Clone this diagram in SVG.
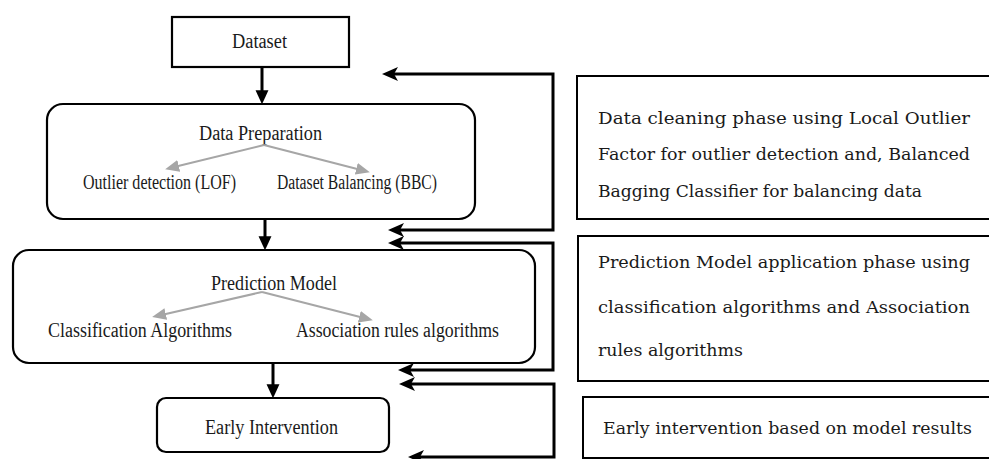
<svg xmlns="http://www.w3.org/2000/svg" width="989" height="459" viewBox="0 0 989 459">
<style>
.box{fill:#fff;stroke:#000;stroke-width:2.2}
.rbox{fill:#fff;stroke:#000;stroke-width:2}
.lt{font-family:"Liberation Serif","Times New Roman",serif;font-size:20px;fill:#1a1a1a}
.rt{font-family:"DejaVu Serif","Liberation Serif",serif;font-size:17px;fill:#1a1a1a}
.main{fill:none;stroke:#000;stroke-width:3}
.grey{fill:none;stroke:#a6a6a6;stroke-width:2}
.br{fill:none;stroke:#000;stroke-width:3}
</style>
<defs>
<marker id="mhead" markerUnits="userSpaceOnUse" markerWidth="14" markerHeight="14" viewBox="0 0 13 12" refX="9" refY="6" orient="auto">
<path d="M0,0 L13,6 L0,12 Z" fill="#000"/>
</marker>
<marker id="ghead" markerUnits="userSpaceOnUse" markerWidth="14" markerHeight="12" viewBox="0 0 14 12" refX="9" refY="6" orient="auto">
<path d="M0,0 L14,6 L0,12 Z" fill="#a6a6a6"/>
</marker>
<marker id="bhead" markerUnits="userSpaceOnUse" markerWidth="16" markerHeight="14" viewBox="0 0 16 14" refX="11" refY="7" orient="auto-start-reverse">
<path d="M0,0 L16,7 L0,14 L4,7 Z" fill="#000"/>
</marker>
</defs>

<g id="dataset">
<rect class="box" x="172" y="17" width="177" height="50"/>
<text class="lt" x="232" y="48" textLength="55" lengthAdjust="spacingAndGlyphs">Dataset</text>
</g>

<g id="data-preparation">
<rect class="box" x="47" y="104" width="428" height="115" rx="16"/>
<text class="lt" x="199" y="140" textLength="123" lengthAdjust="spacingAndGlyphs">Data Preparation</text>
<text class="lt" x="83" y="189" textLength="153" lengthAdjust="spacingAndGlyphs">Outlier detection (LOF)</text>
<text class="lt" x="277" y="189" textLength="160" lengthAdjust="spacingAndGlyphs">Dataset Balancing (BBC)</text>
</g>

<g id="prediction-model">
<rect class="box" x="13" y="250" width="522" height="113" rx="16"/>
<text class="lt" x="211" y="290" textLength="126" lengthAdjust="spacingAndGlyphs">Prediction Model</text>
<text class="lt" x="48" y="337" textLength="184" lengthAdjust="spacingAndGlyphs">Classification Algorithms</text>
<text class="lt" x="296" y="337" textLength="203" lengthAdjust="spacingAndGlyphs">Association rules algorithms</text>
</g>

<g id="early-intervention">
<rect class="box" x="157" y="398" width="232" height="54" rx="9"/>
<text class="lt" x="205" y="434" textLength="133" lengthAdjust="spacingAndGlyphs">Early Intervention</text>
</g>

<g id="note-data-cleaning">
<rect class="rbox" x="577" y="76" width="420" height="143"/>
<text class="rt" x="598" y="124" textLength="372" lengthAdjust="spacingAndGlyphs">Data cleaning phase using Local Outlier</text>
<text class="rt" x="598" y="160" textLength="372" lengthAdjust="spacingAndGlyphs">Factor for outlier detection and, Balanced</text>
<text class="rt" x="598" y="197" textLength="324" lengthAdjust="spacingAndGlyphs">Bagging Classifier for balancing data</text>
</g>

<g id="note-prediction">
<rect class="rbox" x="578" y="236" width="420" height="145"/>
<text class="rt" x="598" y="268" textLength="372" lengthAdjust="spacingAndGlyphs">Prediction Model application phase using</text>
<text class="rt" x="598" y="313" textLength="372" lengthAdjust="spacingAndGlyphs">classification algorithms and Association</text>
<text class="rt" x="598" y="356" textLength="145" lengthAdjust="spacingAndGlyphs">rules algorithms</text>
</g>

<g id="note-early">
<rect class="rbox" x="583" y="397" width="420" height="61"/>
<text class="rt" x="603" y="434" textLength="369" lengthAdjust="spacingAndGlyphs">Early intervention based on model results</text>
</g>

<g id="connectors">
<line class="main" x1="262" y1="67" x2="262" y2="100" marker-end="url(#mhead)"/>
<line class="main" x1="265" y1="219" x2="265" y2="246" marker-end="url(#mhead)"/>
<line class="main" x1="273" y1="363" x2="273" y2="394" marker-end="url(#mhead)"/>
<line class="grey" x1="264" y1="145" x2="170" y2="168" marker-end="url(#ghead)"/>
<line class="grey" x1="264" y1="145" x2="365" y2="171" marker-end="url(#ghead)"/>
<line class="grey" x1="262" y1="292" x2="157" y2="316" marker-end="url(#ghead)"/>
<line class="grey" x1="262" y1="292" x2="368" y2="319" marker-end="url(#ghead)"/>
<path class="br" d="M387,74 L553,74 L553,230 L393,230" marker-start="url(#bhead)" marker-end="url(#bhead)"/>
<path class="br" d="M393,243 L553,243 L553,370 L403,370" marker-start="url(#bhead)" marker-end="url(#bhead)"/>
<path class="br" d="M404,384 L554,384 L554,457 L413,457" marker-start="url(#bhead)" marker-end="url(#bhead)"/>
</g>
</svg>
